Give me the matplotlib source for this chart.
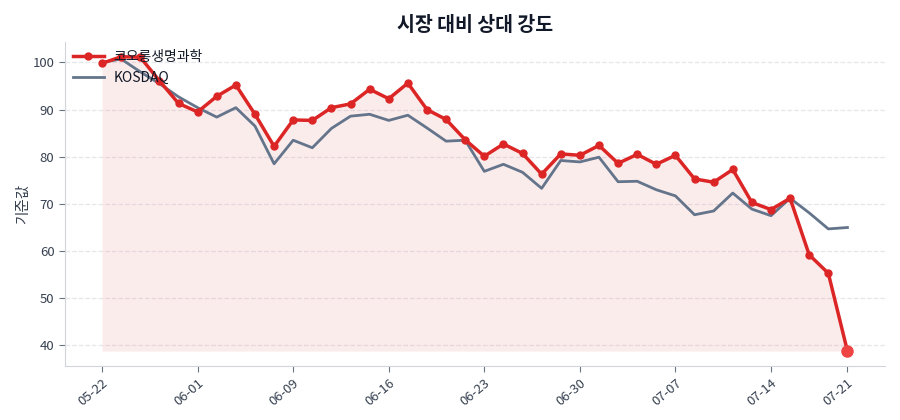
import matplotlib
matplotlib.use("Agg")
import matplotlib.pyplot as plt
import numpy as np

plt.rcParams['font.family'] = ['Noto Sans CJK KR', 'DejaVu Sans']

stock_name = "코오롱생명과학"
index_name = "KOSDAQ"

stock_values = [99.8, 101.2, 101.1, 96.1, 91.3, 89.5, 92.8, 95.2, 89.0, 82.2,
                87.8, 87.7, 90.4, 91.2, 94.3, 92.3, 95.6, 90.0, 87.9, 83.6,
                80.1, 82.7, 80.7, 76.3, 80.6, 80.3, 82.4, 78.6, 80.5, 78.4,
                80.3, 75.3, 74.6, 77.3, 70.3, 68.8, 71.2, 59.2, 55.3, 38.8]

index_values = [100.0, 100.7, 98.0, 95.5, 92.7, 90.4, 88.4, 90.4, 86.5, 78.5,
                83.5, 81.9, 86.0, 88.6, 89.0, 87.7, 88.8, 86.1, 83.3, 83.5,
                76.9, 78.4, 76.7, 73.3, 79.2, 78.9, 79.9, 74.7, 74.8, 73.0,
                71.7, 67.7, 68.5, 72.3, 68.9, 67.5, 71.2, 68.1, 64.7, 65.0]

tick_positions = [0, 5, 10, 15, 20, 25, 30, 35, 39]
tick_labels = ["05-22", "06-01", "06-09", "06-16", "06-23", "06-30", "07-07", "07-14", "07-21"]

title = "시장 대비 상대 강도"
ylabel = "기준값"

red = "#dc2626"
slate = "#64748b"
text_c = "#374151"

x = np.arange(len(stock_values))
s = np.array(stock_values)
k = np.array(index_values)

fig = plt.figure(figsize=(9, 4.2), dpi=100)
ax = fig.add_axes([0.072, 0.129, 0.911, 0.771])

ax.fill_between(x, s, s.min(), color=red, alpha=0.085, linewidth=0, zorder=1)
ax.plot(x, s, color=red, linewidth=2.5, marker='o', markersize=5, label=stock_name, zorder=3)
ax.plot(x, k, color=slate, linewidth=2.0, label=index_name, zorder=2)
ax.plot([x[-1]], [s[-1]], 'o', color="#ef4444", markersize=8, zorder=4)

ax.set_xticks(tick_positions)
ax.set_xticklabels(tick_labels, rotation=40, ha='right', rotation_mode='anchor')
ax.set_yticks([40, 50, 60, 70, 80, 90, 100])

ax.grid(axis='y', linestyle='--', color='#e5e7eb', linewidth=0.9)
ax.set_axisbelow(True)
for sp in ['top', 'right']:
    ax.spines[sp].set_visible(False)
for sp in ['left', 'bottom']:
    ax.spines[sp].set_color('#d1d5db')
ax.tick_params(axis='both', colors='#6b7280', labelcolor=text_c, labelsize=9.5, length=4)

ax.set_ylabel(ylabel, color=text_c, fontsize=10.5, labelpad=2)
ax.set_title(title, fontsize=14, fontweight='bold', color='#111827', pad=8)

leg = ax.legend(loc='upper left', frameon=False, fontsize=10, borderaxespad=0.2,
                handlelength=2.2, handletextpad=0.7, labelspacing=0.5)
for t in leg.get_texts():
    t.set_color('#111827')

fig.savefig("out.png", dpi=100)
